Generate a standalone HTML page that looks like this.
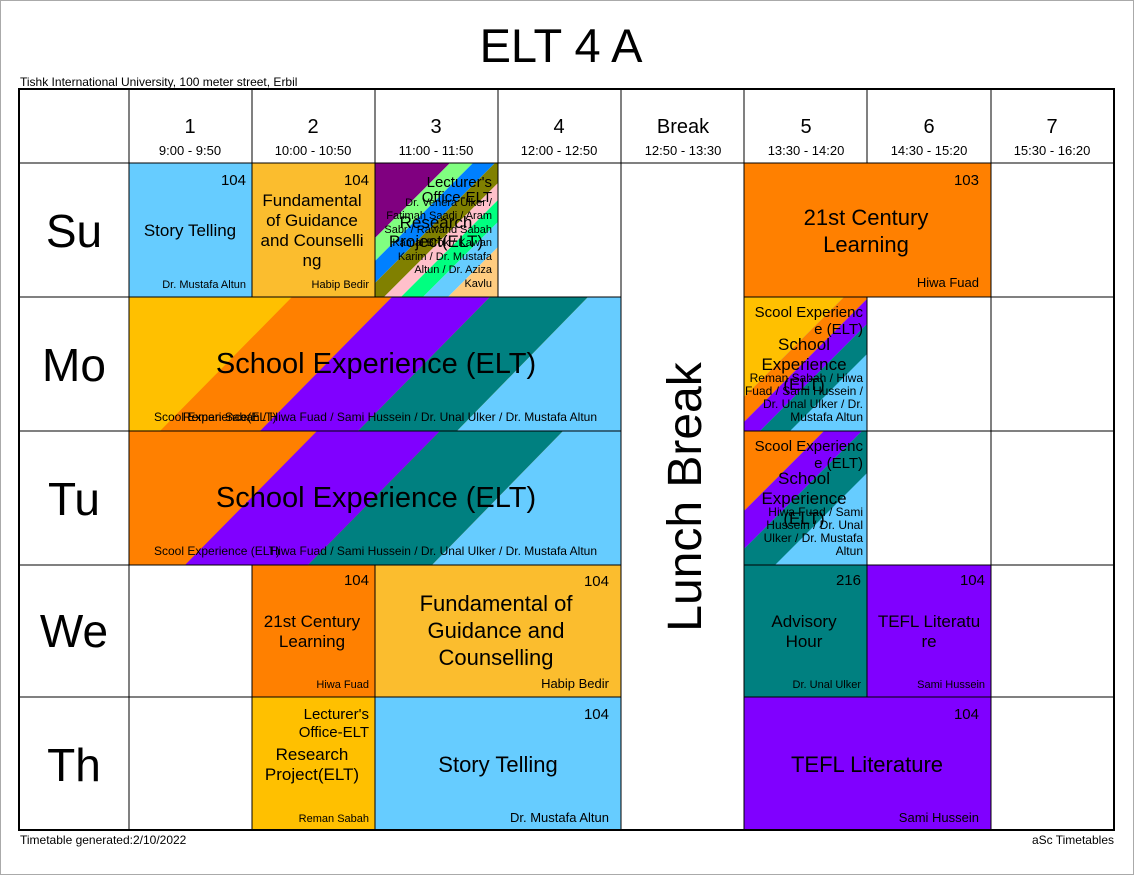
<!DOCTYPE html>
<html><head><meta charset="utf-8"><style>
html,body{margin:0;padding:0;background:#fff}
svg{display:block}
text{font-family:"Liberation Sans",Arial,sans-serif;fill:#000}
</style></head><body>
<svg width="1134" height="875" viewBox="0 0 1134 875" xmlns="http://www.w3.org/2000/svg">
<rect x="0.5" y="0.5" width="1133" height="874" fill="#fff" stroke="#aaa"/>
<text x="561" y="62" font-size="47" text-anchor="middle">ELT 4 A</text>
<text x="20" y="86" font-size="12">Tishk International University, 100 meter street, Erbil</text>

<!-- Su -->
<rect x="129" y="163" width="123" height="134" fill="#66ccff"/>
<rect x="252" y="163" width="123" height="134" fill="#fbbd2e"/>
<clipPath id="c3"><rect x="0" y="0" width="123" height="134"/></clipPath>
<g transform="translate(375,163)"><g clip-path="url(#c3)">
<polygon points="0,0 75,0 0,75" fill="#800080"/>
<polygon points="75,0 98,0 0,98 0,75" fill="#80ff80"/>
<polygon points="98,0 120,0 0,120 0,98" fill="#0080ff"/>
<polygon points="120,0 143,0 0,143 0,120" fill="#808000"/>
<polygon points="143,0 160,0 0,160 0,143" fill="#ffc0cb"/>
<polygon points="160,0 182,0 0,182 0,160" fill="#00ff80"/>
<polygon points="182,0 207,0 0,207 0,182" fill="#66ccff"/>
<polygon points="207,0 400,0 0,400 0,207" fill="#ffcc80"/>
</g></g>
<rect x="744" y="163" width="247" height="134" fill="#ff8000"/>

<!-- Mo -->
<clipPath id="mo"><rect x="129" y="297" width="492" height="134"/></clipPath>
<g clip-path="url(#mo)">
<rect x="129" y="297" width="492" height="134" fill="#ffc000"/>
<polygon points="292,297 392,297 260,431 160,431" fill="#ff8000"/>
<polygon points="392,297 490,297 358,431 260,431" fill="#8000ff"/>
<polygon points="490,297 588,297 457,431 358,431" fill="#008080"/>
<polygon points="588,297 800,297 800,431 457,431" fill="#66ccff"/>
</g>
<clipPath id="c5"><rect x="0" y="0" width="123" height="134"/></clipPath>
<g transform="translate(744,297)"><g clip-path="url(#c5)">
<rect width="123" height="134" fill="#66ccff"/>
<polygon points="0,0 100,0 0,100" fill="#ffc000"/>
<polygon points="100,0 125,0 0,125 0,100" fill="#ff8000"/>
<polygon points="125,0 150,0 0,150 0,125" fill="#8000ff"/>
<polygon points="150,0 180,0 0,180 0,150" fill="#008080"/>
</g></g>

<!-- Tu -->
<clipPath id="tu"><rect x="129" y="431" width="492" height="134"/></clipPath>
<g clip-path="url(#tu)">
<rect x="129" y="431" width="492" height="134" fill="#ff8000"/>
<polygon points="317,431 440,431 308,565 185,565" fill="#8000ff"/>
<polygon points="440,431 563,431 432,565 308,565" fill="#008080"/>
<polygon points="563,431 800,431 800,565 432,565" fill="#66ccff"/>
</g>
<g transform="translate(744,431)"><g clip-path="url(#c5)">
<rect width="123" height="134" fill="#66ccff"/>
<polygon points="0,0 80,0 0,80" fill="#ff8000"/>
<polygon points="80,0 118,0 0,118 0,80" fill="#8000ff"/>
<polygon points="118,0 165,0 0,165 0,118" fill="#008080"/>
</g></g>

<!-- We -->
<rect x="252" y="565" width="123" height="132" fill="#ff8000"/>
<rect x="375" y="565" width="246" height="132" fill="#fbbd2e"/>
<rect x="744" y="565" width="123" height="132" fill="#008080"/>
<rect x="867" y="565" width="124" height="132" fill="#8000ff"/>

<!-- Th -->
<rect x="252" y="697" width="123" height="133" fill="#ffc000"/>
<rect x="375" y="697" width="246" height="133" fill="#66ccff"/>
<rect x="744" y="697" width="247" height="133" fill="#8000ff"/>

<!-- grid -->
<g stroke="#000" stroke-width="1" fill="none">
<line x1="129" y1="89" x2="129" y2="830"/>
<line x1="252" y1="89" x2="252" y2="163"/><line x1="252" y1="163" x2="252" y2="297"/><line x1="252" y1="565" x2="252" y2="830"/>
<line x1="375" y1="89" x2="375" y2="297"/><line x1="375" y1="565" x2="375" y2="830"/>
<line x1="498" y1="89" x2="498" y2="297"/>
<line x1="621" y1="89" x2="621" y2="830"/>
<line x1="744" y1="89" x2="744" y2="830"/>
<line x1="867" y1="89" x2="867" y2="163"/><line x1="867" y1="297" x2="867" y2="697"/>
<line x1="991" y1="89" x2="991" y2="830"/>
<line x1="19" y1="163" x2="1114" y2="163"/>
<line x1="19" y1="297" x2="621" y2="297"/><line x1="744" y1="297" x2="1114" y2="297"/>
<line x1="19" y1="431" x2="621" y2="431"/><line x1="744" y1="431" x2="1114" y2="431"/>
<line x1="19" y1="565" x2="621" y2="565"/><line x1="744" y1="565" x2="1114" y2="565"/>
<line x1="19" y1="697" x2="621" y2="697"/><line x1="744" y1="697" x2="1114" y2="697"/>
</g>
<rect x="19" y="89" width="1095" height="741" fill="none" stroke="#000" stroke-width="2"/>

<!-- header -->
<g font-size="20" text-anchor="middle">
<text x="190" y="133">1</text><text x="313" y="133">2</text><text x="436" y="133">3</text><text x="559" y="133">4</text>
<text x="683" y="133">Break</text><text x="806" y="133">5</text><text x="929" y="133">6</text><text x="1052" y="133">7</text>
</g>
<g font-size="13" text-anchor="middle">
<text x="190" y="155">9:00 - 9:50</text><text x="313" y="155">10:00 - 10:50</text><text x="436" y="155">11:00 - 11:50</text><text x="559" y="155">12:00 - 12:50</text>
<text x="683" y="155">12:50 - 13:30</text><text x="806" y="155">13:30 - 14:20</text><text x="929" y="155">14:30 - 15:20</text><text x="1052" y="155">15:30 - 16:20</text>
</g>
<g font-size="46" text-anchor="middle">
<text x="74" y="247">Su</text><text x="74" y="381">Mo</text><text x="74" y="515">Tu</text><text x="74" y="647">We</text><text x="74" y="781">Th</text>
</g>
<text transform="translate(701,497) rotate(-90)" font-size="48" text-anchor="middle">Lunch Break</text>

<!-- Su text -->
<text x="246" y="185" font-size="15" text-anchor="end">104</text>
<text x="190" y="236" font-size="17" text-anchor="middle">Story Telling</text>
<text x="246" y="288" font-size="11" text-anchor="end">Dr. Mustafa Altun</text>
<text x="369" y="185" font-size="15" text-anchor="end">104</text>
<g font-size="17" text-anchor="middle"><text x="312" y="206">Fundamental</text><text x="312" y="226">of Guidance</text><text x="312" y="246">and Counselli</text><text x="312" y="266">ng</text></g>
<text x="369" y="288" font-size="11" text-anchor="end">Habip Bedir</text>
<g font-size="15" text-anchor="end"><text x="492" y="187">Lecturer's</text><text x="492" y="202">Office-ELT</text></g>
<g font-size="17" text-anchor="middle"><text x="436" y="228">Research</text><text x="436" y="247">Project(ELT)</text></g>
<g font-size="11" text-anchor="end">
<text x="492" y="206">Dr. Venera Ulker /</text><text x="492" y="219">Fatimah Saadi / Aram</text><text x="492" y="233">Sabr / Rawand Sabah</text><text x="492" y="246">Kamal Brok / Kawan</text><text x="492" y="260">Karim / Dr. Mustafa</text><text x="492" y="273">Altun / Dr. Aziza</text><text x="492" y="287">Kavlu</text>
</g>
<text x="979" y="185" font-size="15" text-anchor="end">103</text>
<g font-size="22" text-anchor="middle"><text x="866" y="225">21st Century</text><text x="866" y="252">Learning</text></g>
<text x="979" y="287" font-size="13" text-anchor="end">Hiwa Fuad</text>

<!-- Mo/Tu text -->
<text x="376" y="373" font-size="29" text-anchor="middle">School Experience (ELT)</text>
<text x="154" y="421" font-size="12">Scool Experience(ELT)</text>
<text x="597" y="421" font-size="12" text-anchor="end">Reman Sabah / Hiwa Fuad / Sami Hussein / Dr. Unal Ulker / Dr. Mustafa Altun</text>
<text x="376" y="507" font-size="29" text-anchor="middle">School Experience (ELT)</text>
<text x="154" y="555" font-size="12">Scool Experience (ELT)</text>
<text x="597" y="555" font-size="12" text-anchor="end">Hiwa Fuad / Sami Hussein / Dr. Unal Ulker / Dr. Mustafa Altun</text>

<g font-size="15" text-anchor="end"><text x="863" y="317">Scool Experienc</text><text x="863" y="334">e (ELT)</text></g>
<g font-size="17" text-anchor="middle"><text x="804" y="350">School</text><text x="804" y="370">Experience</text><text x="804" y="390">(ELT)</text></g>
<g font-size="12" text-anchor="end"><text x="863" y="382">Reman Sabah / Hiwa</text><text x="863" y="395">Fuad / Sami Hussein /</text><text x="863" y="408">Dr. Unal Ulker / Dr.</text><text x="863" y="421">Mustafa Altun</text></g>

<g font-size="15" text-anchor="end"><text x="863" y="451">Scool Experienc</text><text x="863" y="468">e (ELT)</text></g>
<g font-size="17" text-anchor="middle"><text x="804" y="484">School</text><text x="804" y="504">Experience</text><text x="804" y="524">(ELT)</text></g>
<g font-size="12" text-anchor="end"><text x="863" y="516">Hiwa Fuad / Sami</text><text x="863" y="529">Hussein / Dr. Unal</text><text x="863" y="542">Ulker / Dr. Mustafa</text><text x="863" y="555">Altun</text></g>

<!-- We text -->
<text x="369" y="585" font-size="15" text-anchor="end">104</text>
<g font-size="17" text-anchor="middle"><text x="312" y="627">21st Century</text><text x="312" y="647">Learning</text></g>
<text x="369" y="688" font-size="11" text-anchor="end">Hiwa Fuad</text>
<text x="609" y="586" font-size="15" text-anchor="end">104</text>
<g font-size="22" text-anchor="middle"><text x="496" y="611">Fundamental of</text><text x="496" y="638">Guidance and</text><text x="496" y="665">Counselling</text></g>
<text x="609" y="688" font-size="13" text-anchor="end">Habip Bedir</text>
<text x="861" y="585" font-size="15" text-anchor="end">216</text>
<g font-size="17" text-anchor="middle"><text x="804" y="627">Advisory</text><text x="804" y="647">Hour</text></g>
<text x="861" y="688" font-size="11" text-anchor="end">Dr. Unal Ulker</text>
<text x="985" y="585" font-size="15" text-anchor="end">104</text>
<g font-size="17" text-anchor="middle"><text x="929" y="627">TEFL Literatu</text><text x="929" y="647">re</text></g>
<text x="985" y="688" font-size="11" text-anchor="end">Sami Hussein</text>

<!-- Th text -->
<g font-size="15" text-anchor="end"><text x="369" y="719">Lecturer's</text><text x="369" y="737">Office-ELT</text></g>
<g font-size="17" text-anchor="middle"><text x="312" y="760">Research</text><text x="312" y="780">Project(ELT)</text></g>
<text x="369" y="822" font-size="11" text-anchor="end">Reman Sabah</text>
<text x="609" y="719" font-size="15" text-anchor="end">104</text>
<text x="498" y="772" font-size="22" text-anchor="middle">Story Telling</text>
<text x="609" y="822" font-size="13" text-anchor="end">Dr. Mustafa Altun</text>
<text x="979" y="719" font-size="15" text-anchor="end">104</text>
<text x="867" y="772" font-size="22" text-anchor="middle">TEFL Literature</text>
<text x="979" y="822" font-size="13" text-anchor="end">Sami Hussein</text>

<text x="20" y="844" font-size="12">Timetable generated:2/10/2022</text>
<text x="1114" y="844" font-size="12" text-anchor="end">aSc Timetables</text>
</svg>
</body></html>
